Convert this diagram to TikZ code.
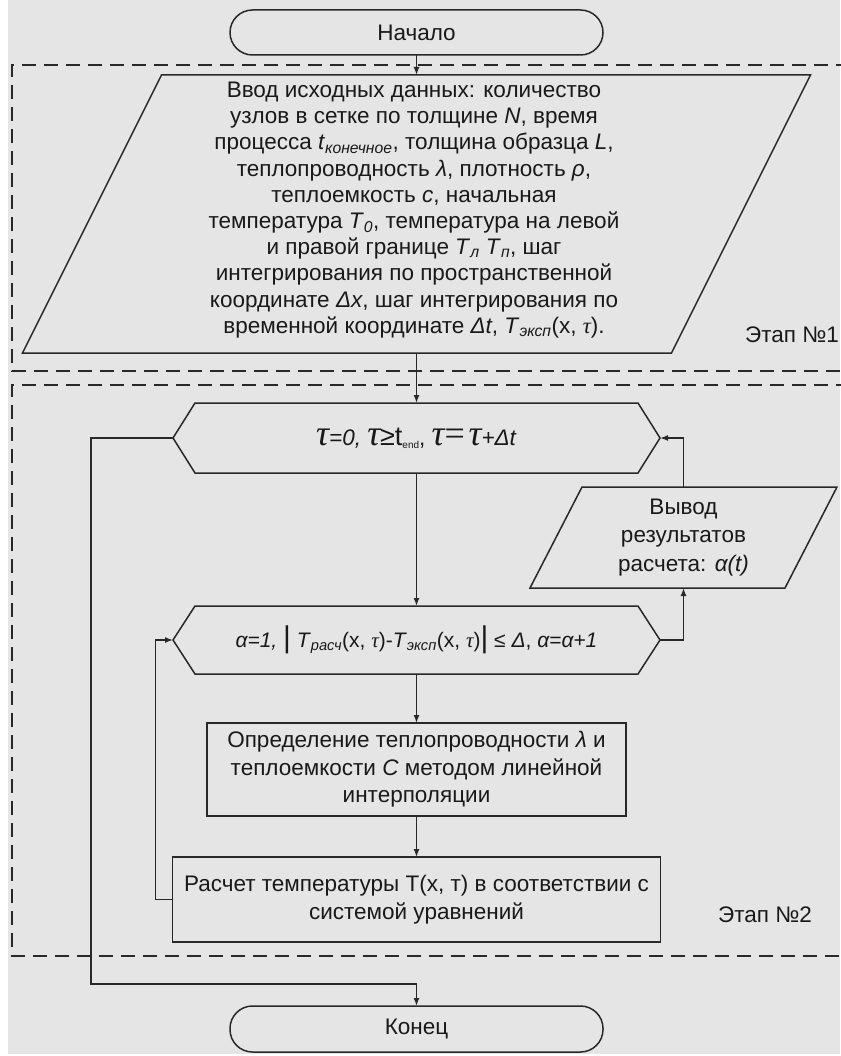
\documentclass[tikz,border=0pt]{standalone}
\usepackage{fontspec}
\setmainfont{Liberation Sans}
\newfontfamily\serifgr{Liberation Serif}
\usetikzlibrary{arrows.meta}
\definecolor{bggray}{RGB}{229,229,229}
\definecolor{ink}{RGB}{40,40,40}
\newcommand{\tauBig}{{\fontsize{36}{36}\selectfont\serifgr\itshape τ}}
\newcommand{\tauIt}{{\serifgr\itshape τ}}

\begin{document}
\begin{tikzpicture}[x=1pt,y=-1pt,
  line/.style={draw=ink,line width=1.5pt},
  arr/.style={line,-{Latex[length=8pt,width=6pt]}},
  frame/.style={draw=ink,line width=1.3pt,dash pattern=on 14pt off 8pt},
  shapebox/.style={inner sep=0pt,outer sep=0pt,align=center,text=black!90,font=\fontsize{22.5}{26.2}\selectfont},
  term/.style={shapebox,line,rounded corners=22.5pt,minimum width=373pt},
  procbox/.style={shapebox,line}]
\fill[white] (0,0) rectangle (840,1056);
\fill[bggray] (8,0) rectangle (840,1054);
\useasboundingbox (0,0) rectangle (840,1056);

% stages
\draw[frame] (850,65) -- (12,65) -- (12,371) -- (850,371);
\draw[frame] (850,385) -- (12,385) -- (12,956) -- (850,956);
\node[shapebox] (stage1) at (792,335) {Этап №1};
\node[shapebox] (stage2) at (765,915) {Этап №2};

\node[term,minimum height=45pt] (start) at (416.5,32.5) {Начало};

\node[shapebox,minimum width=788pt,minimum height=278pt] (input) at (416.5,214) {};
\draw[line] ([xshift=139pt]input.north west) -- (input.north east) -- ([xshift=-139pt]input.south east) -- (input.south west) -- cycle;
\node[shapebox] (inputtext) at (414,210) {Ввод исходных данных: количество\\
узлов в сетке по толщине \textit{N}, время\\
процесса \textit{t}\textsubscript{\textit{конечное}}, толщина образца \textit{L},\\
теплопроводность \textit{λ}, плотность \textit{ρ},\\
теплоемкость \textit{с}, начальная\\
температура \textit{T}\textsubscript{\textit{0}}, температура на левой\\
и правой границе \textit{T}\textsubscript{\textit{л}} \textit{T}\textsubscript{\textit{п}}, шаг\\
интегрирования по пространственной\\
координате \textit{Δx}, шаг интегрирования по\\
временной координате \textit{Δt}, \textit{T}\textsubscript{\textit{эксп}}(x, \tauIt).};

\node[shapebox,minimum width=487pt,minimum height=70pt] (tloop) at (416.5,438) {\tauBig\textit{=0,} \tauBig{\fontsize{27}{27}\selectfont≥t}\raisebox{-3pt}{\fontsize{10}{10}\selectfont end}, \tauBig{\fontsize{36}{36}\selectfont\serifgr=}\,\tauBig\textit{+Δt}};
\node[shapebox,minimum width=487pt,minimum height=68pt,font=\fontsize{21}{24}\selectfont] (aloop) at (416.5,640) {\textit{α=1,} {\fontsize{30}{30}\selectfont|} \textit{T}\textsubscript{\textit{расч}}(x,\ \tauIt)-\textit{T}\textsubscript{\textit{эксп}}(x,\ \tauIt){\fontsize{30}{30}\selectfont|} ≤ \textit{Δ}, \textit{α=α+1}};
\foreach \n in {tloop,aloop}
  \draw[line] ([xshift=22pt]\n.north west) -- ([xshift=-22pt]\n.north east) -- (\n.east) -- ([xshift=-22pt]\n.south east) -- ([xshift=22pt]\n.south west) -- (\n.west) -- cycle;

\node[shapebox,minimum width=307pt,minimum height=101pt,font=\fontsize{22.5}{28.5}\selectfont] (result) at (683.5,537.5) {Вывод\\ результатов\\ расчета: \textit{α(t)}};
\draw[line] ([xshift=52pt]result.north west) -- (result.north east) -- ([xshift=-52pt]result.south east) -- (result.south west) -- cycle;

\node[procbox,minimum width=419pt,minimum height=93pt,font=\fontsize{22.5}{27.5}\selectfont] (lambda) at (416.5,769.5) {Определение теплопроводности \textit{λ} и\\ теплоемкости \textit{С} методом линейной\\ интерполяции};
\node[procbox,minimum width=488pt,minimum height=85pt,font=\fontsize{22.5}{28}\selectfont] (calc) at (416.5,899.5) {Расчет температуры T(x, т) в соответствии с\\ системой уравнений};

\node[term,minimum height=46pt] (finish) at (416.5,1029) {Конец};

\coordinate (exitpt) at (91,984);
\draw[arr] (start.south) -- (input.north);
\draw[arr] (input.south) -- (tloop.north);
\draw[arr] (tloop.south) -- (aloop.north);
\draw[arr] (aloop.south) -- (lambda.north);
\draw[arr] (lambda.south) -- (calc.north);
\draw[arr] (calc.west) -- ++(-17,0) |- (aloop.west);
\draw[arr] (aloop.east) -| (result.south);
\draw[arr] (result.north) |- (tloop.east);
\draw[arr] (tloop.west) -| (exitpt) -| (finish.north);
\end{tikzpicture}
\end{document}
